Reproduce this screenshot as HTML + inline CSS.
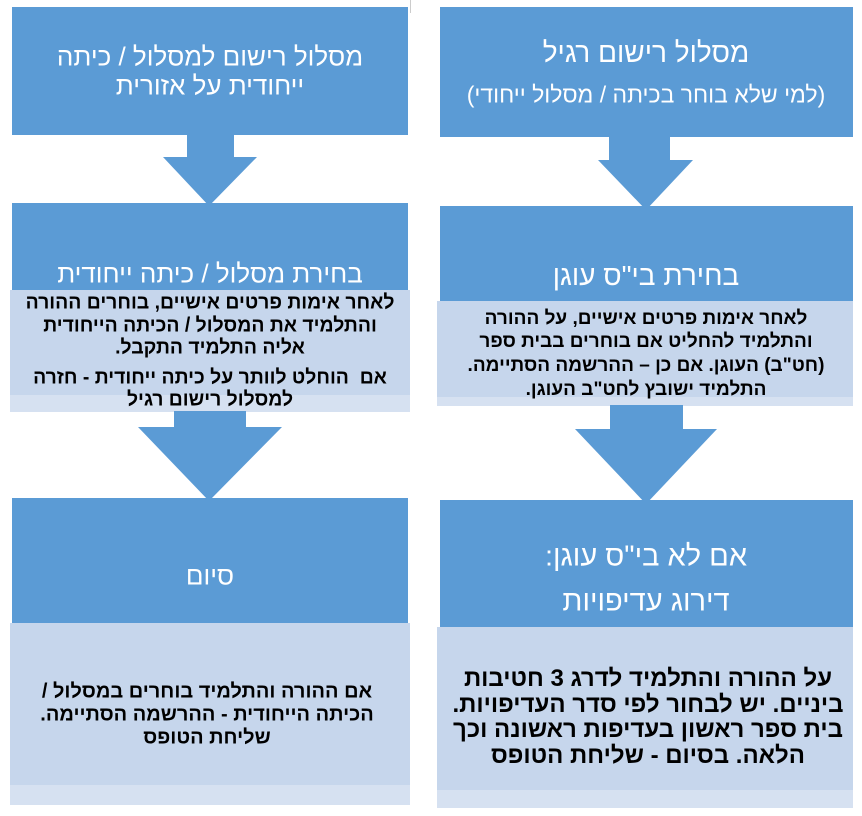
<!DOCTYPE html>
<html><head><meta charset="utf-8"><style>
body{margin:0;width:862px;height:816px;background:#fff;position:relative;overflow:hidden;font-family:"Liberation Sans","DejaVu Sans",sans-serif}
.r{position:absolute}
.b{background:#5b9bd5}.l{background:#c6d6ec}.s{background:#d6e1f1}
.t{position:absolute;direction:rtl;text-align:center;white-space:nowrap;transform:translate(-50%,-50%)}
.h{color:#fff;font-size:26px}
.p{color:#000;font-size:19px;font-weight:bold}
</style></head><body>
<div class="r" style="left:410px;top:0;width:1px;height:13px;background:#ccc"></div>
<div class="r b" style="left:12px;top:7px;width:396px;height:128px"></div>
<div class="r b" style="left:187px;top:134px;width:47px;height:25px"></div>
<svg class="r" style="left:0;top:0" width="862" height="816">
<polygon points="163,157 257,157 209,206" fill="#5b9bd5"/>
<polygon points="598,160 693,160 646,210" fill="#5b9bd5"/>
<polygon points="138,427 282,427 209,501" fill="#5b9bd5"/>
<polygon points="575,429 717,429 646,504" fill="#5b9bd5"/>
</svg>
<div class="r b" style="left:12px;top:203px;width:396px;height:88px"></div>
<div class="r l" style="left:10px;top:290px;width:400px;height:105px"></div>
<div class="r s" style="left:10px;top:395px;width:400px;height:17px"></div>
<div class="r b" style="left:174px;top:411px;width:72px;height:17px"></div>
<div class="r b" style="left:12px;top:498px;width:396px;height:125px"></div>
<div class="r l" style="left:10px;top:623px;width:400px;height:162px"></div>
<div class="r s" style="left:10px;top:785px;width:400px;height:20px"></div>
<div class="r b" style="left:440px;top:7px;width:413px;height:130px"></div>
<div class="r b" style="left:609px;top:136px;width:61px;height:25px"></div>
<div class="r b" style="left:440px;top:206px;width:413px;height:95px"></div>
<div class="r l" style="left:437px;top:301px;width:416px;height:96px"></div>
<div class="r s" style="left:437px;top:397px;width:416px;height:9px"></div>
<div class="r b" style="left:610px;top:405px;width:73px;height:25px"></div>
<div class="r b" style="left:440px;top:500px;width:413px;height:127px"></div>
<div class="r l" style="left:437px;top:627px;width:416px;height:163px"></div>
<div class="r s" style="left:437px;top:790px;width:416px;height:18px"></div>
<div class="t h" style="left:210px;top:57px">מסלול רישום למסלול / כיתה</div>
<div class="t h" style="left:210px;top:86px">ייחודית על אזורית</div>
<div class="t h" style="left:210px;top:274px">בחירת מסלול / כיתה ייחודית</div>
<div class="t p" style="left:210px;top:303px;font-size:20px;transform:translate(-50%,-50%) scaleX(.97)">לאחר אימות פרטים אישיים, בוחרים ההורה</div>
<div class="t p" style="left:210px;top:326px;font-size:20px;transform:translate(-50%,-50%) scaleX(.97)">והתלמיד את המסלול / הכיתה הייחודית</div>
<div class="t p" style="left:210px;top:348px;font-size:20px;transform:translate(-50%,-50%) scaleX(.97)">אליה התלמיד התקבל.</div>
<div class="t p" style="left:210px;top:378px;font-size:20px;transform:translate(-50%,-50%) scaleX(.97)">אם &nbsp;הוחלט לוותר על כיתה ייחודית - חזרה</div>
<div class="t p" style="left:210px;top:400px;font-size:20px;transform:translate(-50%,-50%) scaleX(.97)">למסלול רישום רגיל</div>
<div class="t h" style="left:210px;top:576px">סיום</div>
<div class="t p" style="left:207px;top:692px;font-size:20px">אם ההורה והתלמיד בוחרים במסלול /</div>
<div class="t p" style="left:207px;top:715px;font-size:20px">הכיתה הייחודית - ההרשמה הסתיימה.</div>
<div class="t p" style="left:207px;top:738px;font-size:20px">שליחת הטופס</div>
<div class="t h" style="left:646px;top:53px;font-size:28px">מסלול רישום רגיל</div>
<div class="t h" style="left:646px;top:95px;font-size:23px">(למי שלא בוחר בכיתה / מסלול ייחודי)</div>
<div class="t h" style="left:646px;top:276px;font-size:28px">בחירת בי"ס עוגן</div>
<div class="t p" style="left:646px;top:319px">לאחר אימות פרטים אישיים, על ההורה</div>
<div class="t p" style="left:646px;top:342px">והתלמיד להחליט אם בוחרים בבית ספר</div>
<div class="t p" style="left:646px;top:366px">(חט"ב) העוגן. אם כן – ההרשמה הסתיימה.</div>
<div class="t p" style="left:646px;top:390px">התלמיד ישובץ לחט"ב העוגן.</div>
<div class="t h" style="left:646px;top:557px;font-size:29px">אם לא בי"ס עוגן:</div>
<div class="t h" style="left:646px;top:602px;font-size:29px">דירוג עדיפויות</div>
<div class="t p" style="left:648px;top:679px;font-size:24px">על ההורה והתלמיד לדרג 3 חטיבות</div>
<div class="t p" style="left:648px;top:705px;font-size:24px">ביניים. יש לבחור לפי סדר העדיפויות.</div>
<div class="t p" style="left:648px;top:730px;font-size:24px">בית ספר ראשון בעדיפות ראשונה וכך</div>
<div class="t p" style="left:648px;top:756px;font-size:24px">הלאה. בסיום - שליחת הטופס</div>
</body></html>
